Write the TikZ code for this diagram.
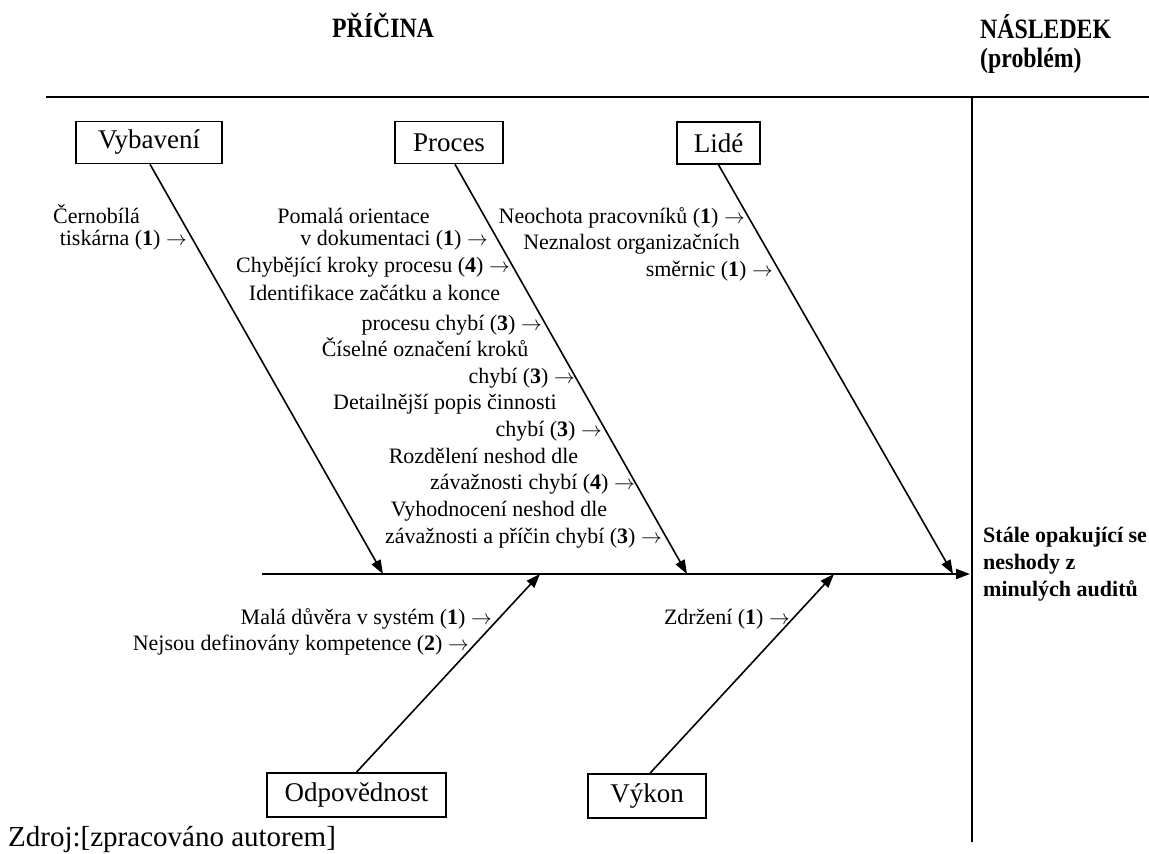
\documentclass[tikz,border=0pt]{standalone}
\usepackage{fontspec}
\setmainfont{Liberation Serif}
\usetikzlibrary{arrows.meta}
\newcommand\rar{\ensuremath{\rightarrow}}
\begin{document}
\begin{tikzpicture}[x=1pt,y=-1pt,
  box/.style={draw, line width=1.6pt, font=\fontsize{27}{30}\selectfont, minimum height=42pt, inner sep=0pt},
  lbl/.style={font=\fontsize{22}{26}\selectfont, inner sep=0pt},
  ttl/.style={font=\fontsize{28}{30}\selectfont\bfseries, inner sep=0pt},
  eff/.style={font=\fontsize{22}{27}\selectfont\bfseries, inner sep=0pt},
  src/.style={font=\fontsize{29}{32}\selectfont, inner sep=0pt},
  bone/.style={line width=1.6pt, -{Triangle[length=14pt,width=10pt]}},
  rule/.style={line width=2pt}]
\fill[white] (0,0) rectangle (1149,854);
\useasboundingbox (0,0) rectangle (1149,854);

% titles
\node[ttl, anchor=base] (pricina) at (383,37) {\scalebox{0.85}[1]{PŘÍČINA}};
\node[ttl, anchor=base west] (nasl) at (980,38) {\scalebox{0.85}[1]{NÁSLEDEK}};
\node[ttl, anchor=base west] (probl) at (980,67) {\scalebox{0.85}[1]{(problém)}};

% frame lines
\coordinate (h0) at (46,97);
\coordinate (h1) at (1149,97);
\coordinate (v0) at (972,97);
\coordinate (v1) at (972,842);
\draw[rule] (h0) -- (h1);
\draw[rule] (v0) -- (v1);

% boxes
\node[box, minimum width=146pt] (vyb) at (149,142.5) {Vybavení};
\node[box, minimum width=108pt] (proc) at (449,142.5) {Proces};
\node[box, minimum width=83pt] (lide) at (718.5,143) {Lidé};
\node[box, minimum width=179pt, minimum height=44pt] (odp) at (356.5,795) {Odpovědnost};
\node[box, minimum width=118pt, minimum height=44pt] (vyk) at (647,796) {Výkon};

% spine
\coordinate (s0) at (262,574);
\coordinate (s1) at (970,574);
\draw[bone, line width=2pt] (s0) -- (s1);

% bone ends on spine
\coordinate (t1) at (383,574);
\coordinate (t2) at (687,574);
\coordinate (t3) at (953,574);
\coordinate (b1) at (540,574);
\coordinate (b2) at (834,574);

\draw[bone] ([xshift=1pt]vyb.south) -- (t1);
\draw[bone] ([xshift=6pt]proc.south) -- (t2);
\draw[bone] (lide.south) -- (t3);
\draw[bone] (odp.north) -- (b1);
\draw[bone] ([xshift=3pt]vyk.north) -- (b2);

% Vybaveni labels
\node[lbl, anchor=base west] (l1) at (53,223) {Černobílá};
\node[lbl, anchor=base east] (l2) at (187,245) {tiskárna (\textbf{1}) \rar};

% Proces labels
\node[lbl, anchor=base] (p1) at (353.5,223) {Pomalá orientace};
\node[lbl, anchor=base east] (p2) at (488,245) {v dokumentaci (\textbf{1}) \rar};
\node[lbl, anchor=base east] (p3) at (510,272) {Chybějící kroky procesu (\textbf{4}) \rar};
\node[lbl, anchor=base] (p4) at (374.5,300) {Identifikace začátku a konce};
\node[lbl, anchor=base east] (p5) at (542,330) {procesu chybí (\textbf{3}) \rar};
\node[lbl, anchor=base] (p6) at (425,356) {Číselné označení kroků};
\node[lbl, anchor=base east] (p7) at (575,383) {chybí (\textbf{3}) \rar};
\node[lbl, anchor=base] (p8) at (445,409) {Detailnější popis činnosti};
\node[lbl, anchor=base east] (p9) at (602,436) {chybí (\textbf{3}) \rar};
\node[lbl, anchor=base] (p10) at (483.5,463) {Rozdělení neshod dle};
\node[lbl, anchor=base east] (p11) at (635,489) {závažnosti chybí (\textbf{4}) \rar};
\node[lbl, anchor=base] (p12) at (499,516) {Vyhodnocení neshod dle};
\node[lbl, anchor=base east] (p13) at (662,543) {závažnosti a příčin chybí (\textbf{3}) \rar};

% Lide labels
\node[lbl, anchor=base east] (d1) at (745,223) {Neochota pracovníků (\textbf{1}) \rar};
\node[lbl, anchor=base] (d2) at (631.5,249) {Neznalost organizačních};
\node[lbl, anchor=base east] (d3) at (773,276) {směrnic (\textbf{1}) \rar};

% bottom labels
\node[lbl, anchor=base east] (o1) at (492,624) {Malá důvěra v systém (\textbf{1}) \rar};
\node[lbl, anchor=base east] (o2) at (469,650) {Nejsou definovány kompetence (\textbf{2}) \rar};
\node[lbl, anchor=base east] (k1) at (790,624) {Zdržení (\textbf{1}) \rar};

% effect
\node[eff, anchor=base west] (e1) at (983,542) {Stále opakující se};
\node[eff, anchor=base west] (e2) at (983,569) {neshody z};
\node[eff, anchor=base west] (e3) at (983,596) {minulých auditů};

% source
\node[src, anchor=base west] (zdroj) at (8,846) {Zdroj:[zpracováno autorem]};
\end{tikzpicture}
\end{document}
